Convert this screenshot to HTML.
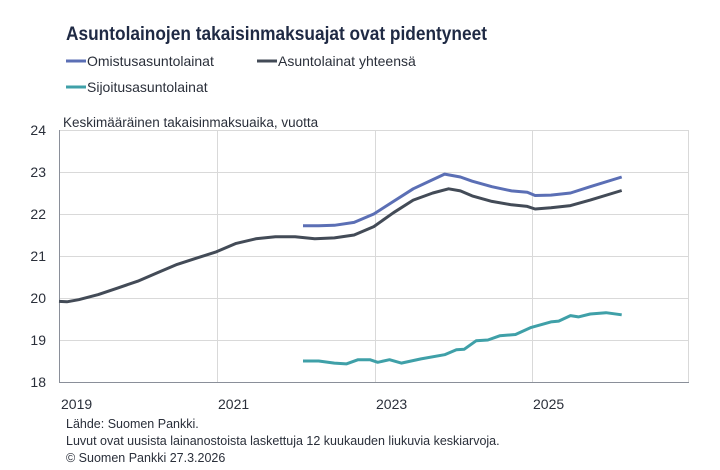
<!DOCTYPE html>
<html><head><meta charset="utf-8"><style>
body{margin:0;background:#fff;width:720px;height:470px;overflow:hidden;font-family:"Liberation Sans",sans-serif;}
svg{display:block}
text{font-family:"Liberation Sans",sans-serif;}
</style></head><body>
<svg id="s" width="720" height="470" xmlns="http://www.w3.org/2000/svg">
<text x="66" y="40" font-size="19" font-weight="bold" fill="#1f2a44" textLength="421" lengthAdjust="spacingAndGlyphs">Asuntolainojen takaisinmaksuajat ovat pidentyneet</text>
<line x1="66" y1="61" x2="86" y2="61" stroke="#5b6fb5" stroke-width="3"/>
<text x="87" y="66" font-size="14" fill="#2a2f3a">Omistusasuntolainat</text>
<line x1="257" y1="61" x2="277" y2="61" stroke="#434b57" stroke-width="3"/>
<text x="278" y="66" font-size="14" fill="#2a2f3a">Asuntolainat yhteensä</text>
<line x1="66" y1="87" x2="86" y2="87" stroke="#3fa0a8" stroke-width="3"/>
<text x="87" y="92" font-size="14" fill="#2a2f3a">Sijoitusasuntolainat</text>
<text x="63" y="127" font-size="13.5" fill="#2a2f3a">Keskimääräinen takaisinmaksuaika, vuotta</text>
<g stroke="#d9d9d9" stroke-width="1">
<line x1="59" y1="130.5" x2="689" y2="130.5"/>
<line x1="59" y1="172.5" x2="689" y2="172.5"/>
<line x1="59" y1="214.5" x2="689" y2="214.5"/>
<line x1="59" y1="256.5" x2="689" y2="256.5"/>
<line x1="59" y1="298.5" x2="689" y2="298.5"/>
<line x1="59" y1="340.5" x2="689" y2="340.5"/>
<line x1="217.5" y1="130" x2="217.5" y2="382"/>
<line x1="375.5" y1="130" x2="375.5" y2="382"/>
<line x1="532.5" y1="130" x2="532.5" y2="382"/>
<line x1="688.5" y1="130" x2="688.5" y2="382"/>
</g>
<line x1="59.5" y1="130" x2="59.5" y2="382" stroke="#8a8f99"/>
<line x1="59" y1="382.5" x2="689" y2="382.5" stroke="#8a8f99"/>
<g font-size="14" fill="#2a2f3a" text-anchor="end">
<text x="46" y="135">24</text><text x="46" y="177">23</text><text x="46" y="219">22</text>
<text x="46" y="261">21</text><text x="46" y="303">20</text><text x="46" y="345">19</text><text x="46" y="387">18</text>
</g>
<g font-size="14" fill="#2a2f3a">
<text x="61" y="409">2019</text><text x="218" y="409">2021</text><text x="376" y="409">2023</text><text x="533" y="409">2025</text>
</g>
<g font-size="12.5" fill="#2a2f3a">
<text x="66" y="428">Lähde: Suomen Pankki.</text>
<text x="66" y="445">Luvut ovat uusista lainanostoista laskettuja 12 kuukauden liukuvia keskiarvoja.</text>
<text x="66" y="462">© Suomen Pankki 27.3.2026</text>
</g>
<path id="tot" fill="none" stroke="#434b57" stroke-width="3" stroke-linejoin="round"/>
<path id="om" fill="none" stroke="#5b6fb5" stroke-width="3" stroke-linejoin="round"/>
<path id="si" fill="none" stroke="#3fa0a8" stroke-width="3" stroke-linejoin="round"/>
</svg>
<script>
function X(t){return 59+78.7*(t-2019);}
function Y(v){return 382-42*(v-18);}
function P(d){return d.map(function(p,i){return (i?'L':'M')+X(p[0]).toFixed(1)+' '+Y(p[1]).toFixed(1);}).join('');}
var tot=[[2019,19.92],[2019.1,19.91],[2019.25,19.96],[2019.5,20.08],[2019.75,20.24],[2020,20.4],[2020.25,20.6],[2020.5,20.8],[2020.75,20.95],[2021,21.1],[2021.25,21.3],[2021.5,21.41],[2021.75,21.46],[2022,21.46],[2022.25,21.41],[2022.5,21.43],[2022.75,21.5],[2023,21.7],[2023.25,22.03],[2023.5,22.33],[2023.75,22.5],[2023.95,22.6],[2024.1,22.55],[2024.25,22.43],[2024.5,22.3],[2024.75,22.22],[2024.95,22.18],[2025.05,22.12],[2025.25,22.15],[2025.5,22.2],[2025.75,22.33],[2026.15,22.56]];
var om=[[2022.1,21.72],[2022.3,21.72],[2022.5,21.73],[2022.75,21.8],[2023,22.0],[2023.25,22.3],[2023.5,22.6],[2023.75,22.82],[2023.9,22.95],[2024.1,22.88],[2024.25,22.78],[2024.5,22.65],[2024.75,22.55],[2024.95,22.52],[2025.05,22.44],[2025.25,22.45],[2025.5,22.5],[2025.75,22.65],[2026.15,22.88]];
var si=[[2022.1,18.5],[2022.3,18.5],[2022.5,18.45],[2022.65,18.43],[2022.8,18.53],[2022.95,18.53],[2023.05,18.47],[2023.2,18.53],[2023.35,18.45],[2023.6,18.55],[2023.9,18.65],[2024.05,18.77],[2024.15,18.78],[2024.3,18.98],[2024.45,19.0],[2024.6,19.1],[2024.8,19.13],[2025,19.3],[2025.25,19.43],[2025.35,19.45],[2025.5,19.58],[2025.6,19.55],[2025.75,19.62],[2025.95,19.65],[2026.15,19.6]];
document.getElementById('tot').setAttribute('d',P(tot));
document.getElementById('om').setAttribute('d',P(om));
document.getElementById('si').setAttribute('d',P(si));
</script>
</body></html>
